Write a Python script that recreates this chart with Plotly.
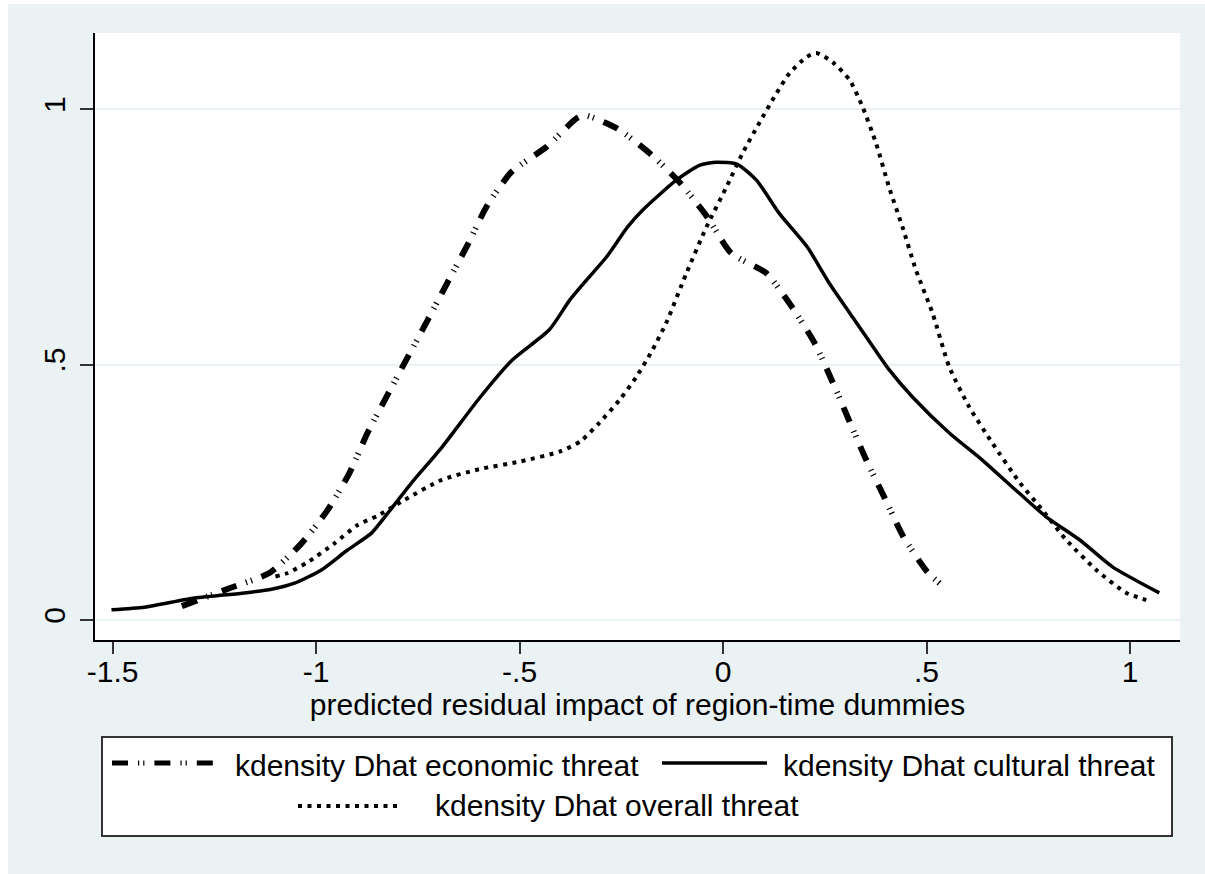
import plotly.graph_objects as go

# ---- data ----
econ_x = [-1.33, -1.21, -1.115, -1.036, -0.972, -0.918, -0.874, -0.825, -0.776, -0.726,
          -0.677, -0.628, -0.582, -0.52, -0.434, -0.36, -0.34, -0.262, -0.181, -0.107,
          -0.039, 0.02, 0.106, 0.17, 0.225, 0.269, 0.311, 0.352, 0.397, 0.443, 0.502, 0.532]
econ_y = [0.027, 0.063, 0.092, 0.15, 0.215, 0.288, 0.366, 0.44, 0.513, 0.587,
          0.661, 0.734, 0.808, 0.877, 0.926, 0.982, 0.988, 0.963, 0.914, 0.857,
          0.789, 0.718, 0.679, 0.612, 0.542, 0.466, 0.388, 0.313, 0.239, 0.163, 0.094, 0.072]

cult_x = [-1.503, -1.422, -1.299, -1.176, -1.11, -1.053, -0.987, -0.923, -0.864, -0.824,
          -0.766, -0.69, -0.599, -0.518, -0.427, -0.377, -0.336, -0.287, -0.235, -0.198,
          -0.115, -0.058, -0.016, 0.035, 0.082, 0.138, 0.207, 0.261, 0.318, 0.352,
          0.409, 0.466, 0.556, 0.637, 0.728, 0.794, 0.876, 0.957, 1.072]
cult_y = [0.02, 0.025, 0.043, 0.053, 0.06, 0.072, 0.098, 0.137, 0.17, 0.209,
          0.268, 0.339, 0.434, 0.509, 0.568, 0.626, 0.665, 0.71, 0.769, 0.802,
          0.861, 0.89, 0.896, 0.892, 0.861, 0.796, 0.73, 0.659, 0.593, 0.554,
          0.489, 0.436, 0.366, 0.313, 0.248, 0.202, 0.157, 0.104, 0.053]

over_x = [-1.10, -1.07, -1.021, -0.955, -0.898, -0.849, -0.783, -0.692, -0.6, -0.5,
          -0.4, -0.35, -0.304, -0.255, -0.213, -0.176, -0.14, -0.09, -0.041, 0.008,
          0.048, 0.089, 0.126, 0.163, 0.205, 0.229, 0.269, 0.311, 0.343, 0.376,
          0.408, 0.441, 0.474, 0.515, 0.556, 0.605, 0.662, 0.728, 0.785, 0.843,
          0.917, 0.991, 1.04]
over_y = [0.085, 0.092, 0.113, 0.15, 0.186, 0.204, 0.235, 0.274, 0.295, 0.31,
          0.33, 0.35, 0.386, 0.43, 0.476, 0.525, 0.581, 0.679, 0.769, 0.847,
          0.914, 0.973, 1.024, 1.07, 1.102, 1.11, 1.092, 1.057, 1.004, 0.933,
          0.847, 0.769, 0.685, 0.6, 0.495, 0.417, 0.346, 0.27, 0.215, 0.157,
          0.098, 0.053, 0.039]

series_names = ["kdensity Dhat economic threat",
                "kdensity Dhat cultural threat",
                "kdensity Dhat overall threat"]

x_tickvals = [-1.5, -1, -0.5, 0, 0.5, 1]
x_ticktext = ["-1.5", "-1", "-.5", "0", ".5", "1"]
y_tickvals = [0, 0.5, 1]
y_ticktext = ["0", ".5", "1"]
x_title = "predicted residual impact of region-time dummies"

# ---- styles ----
OX, OY = 8, 4                      # page offset of the figure
W, H = 1205 - OX, 874 - OY
ML, MR, MT, MB = 95 - OX, 25, 33 - OY, 234
PW, PH = W - ML - MR, H - MT - MB
BG = "#EAF2F3"
FONT = "Liberation Sans, Arial, Helvetica, sans-serif"
FS = 30

ECON_DASH = "16px,10px,1.2px,4px,1.2px,10px"
OVER_DASH = "4px,5.5px"


def px(xp):
    """page pixel x -> paper coordinate"""
    return (xp - OX - ML) / PW


def py(yp):
    """page pixel y -> paper coordinate"""
    return (H - MB - (yp - OY)) / PH


fig = go.Figure()
fig.add_trace(go.Scatter(x=econ_x, y=econ_y, mode="lines", name=series_names[0],
                         line=dict(color="black", width=6, dash=ECON_DASH,
                                   shape="spline", smoothing=0.6),
                         showlegend=False))
fig.add_trace(go.Scatter(x=cult_x, y=cult_y, mode="lines", name=series_names[1],
                         line=dict(color="black", width=3.5, shape="spline", smoothing=0.6),
                         showlegend=False))
fig.add_trace(go.Scatter(x=over_x, y=over_y, mode="lines", name=series_names[2],
                         line=dict(color="black", width=4, dash=OVER_DASH,
                                   shape="spline", smoothing=0.6),
                         showlegend=False))

shapes = []
annotations = []
# legend box
shapes.append(dict(type="rect", xref="paper", yref="paper", x0=px(102), x1=px(1172),
                   y0=py(836), y1=py(737), fillcolor="white",
                   line=dict(color="#333333", width=2)))
# legend samples
shapes.append(dict(type="line", xref="paper", yref="paper", x0=px(112), x1=px(215),
                   y0=py(763), y1=py(763), line=dict(color="black", width=5, dash=ECON_DASH)))
shapes.append(dict(type="line", xref="paper", yref="paper", x0=px(662), x1=px(767),
                   y0=py(763), y1=py(763), line=dict(color="black", width=3.5)))
shapes.append(dict(type="line", xref="paper", yref="paper", x0=px(298), x1=px(397),
                   y0=py(806), y1=py(806), line=dict(color="black", width=4, dash=OVER_DASH)))

for name, xl, yc in [(series_names[0], 233, 765), (series_names[1], 781, 765),
                     (series_names[2], 433, 805)]:
    annotations.append(dict(text=name, xref="paper", yref="paper", x=px(xl), y=py(yc),
                            xanchor="left", yanchor="middle", showarrow=False,
                            font=dict(family=FONT, size=FS, color="black")))

fig.update_layout(
    width=W, height=H,
    margin=dict(l=ML, r=MR, t=MT, b=MB, pad=0),
    paper_bgcolor=BG, plot_bgcolor="white",
    font=dict(family=FONT, size=FS, color="black"),
    shapes=shapes, annotations=annotations,
    showlegend=False,
)
fig.update_xaxes(range=[-1.5435, 1.1229], tickvals=x_tickvals, ticktext=x_ticktext,
                 showgrid=False, zeroline=False, showline=True, linecolor="black",
                 linewidth=1.5, ticks="outside", ticklen=12, tickwidth=1.5,
                 tickcolor="#333333", tickfont=dict(family=FONT, size=FS),
                 ticklabelstandoff=-8,
                 title=dict(text=x_title, font=dict(family=FONT, size=FS), standoff=0))
fig.update_yaxes(range=[-0.0392, 1.149], tickvals=y_tickvals, ticktext=y_ticktext,
                 showgrid=True, gridcolor=BG, gridwidth=2, zeroline=False,
                 showline=True, linecolor="black", linewidth=1.5, ticks="outside",
                 ticklen=13, tickwidth=1.5, tickcolor="#333333", tickangle=-90,
                 ticklabelstandoff=3,
                 tickfont=dict(family=FONT, size=FS))

fig.write_html("out.html",
               post_script="document.body.style.margin='%dpx 0 0 %dpx';" % (OY, OX))
